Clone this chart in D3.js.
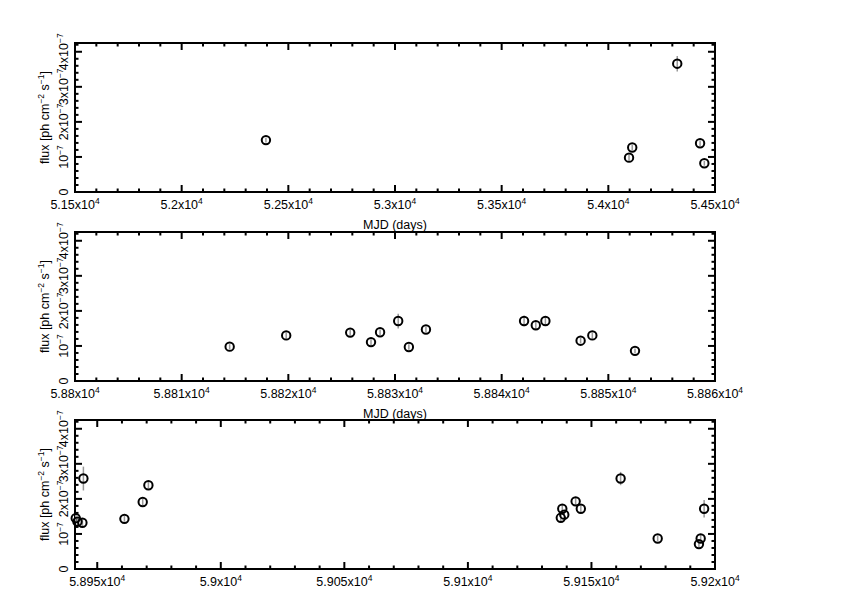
<!DOCTYPE html>
<html><head><meta charset="utf-8">
<script src="https://cdn.jsdelivr.net/npm/d3@7"></script>
<style>body{margin:0;background:#fff}svg{display:block}text{font-family:"Liberation Sans",Arial,sans-serif;fill:#000}</style>
</head><body><svg id="c" width="842" height="595"></svg>
<script>
// Panel 1
const mjd1 = [52395, 54097, 54112, 54323, 54430, 54450];
const flux1 = [1.48, 0.98, 1.27, 3.66, 1.39, 0.82];
const err1 = [0.07, 0.08, 0.08, 0.22, 0.08, 0.07];
// Panel 2
const mjd2 = [58814.5, 58819.8, 58825.8, 58827.75, 58828.6, 58830.3, 58831.3, 58832.9, 58842.1, 58843.2, 58844.1, 58847.4, 58848.5, 58852.5];
const flux2 = [0.98, 1.30, 1.38, 1.11, 1.39, 1.71, 0.97, 1.47, 1.71, 1.59, 1.71, 1.15, 1.30, 0.86];
const err2 = [0.07, 0.08, 0.08, 0.08, 0.08, 0.21, 0.08, 0.08, 0.15, 0.12, 0.14, 0.08, 0.08, 0.07];
// Panel 3
const mjd3 = [58941.3, 58942, 58944, 58944.4, 58961, 58968.4, 58970.7, 59137.6, 59138.2, 59139, 59143.6, 59145.7, 59161.8, 59176.8, 59193.5, 59194.2, 59195.6];
const flux3 = [1.45, 1.35, 1.32, 2.58, 1.43, 1.91, 2.39, 1.46, 1.72, 1.55, 1.93, 1.72, 2.58, 0.87, 0.71, 0.87, 1.72];
const err3 = [0.12, 0.1, 0.1, 0.34, 0.08, 0.09, 0.09, 0.1, 0.12, 0.1, 0.1, 0.1, 0.19, 0.08, 0.08, 0.1, 0.25];
// axis settings (tick labels)
const xDomains = [[51500, 54500], [58800, 58860], [58941, 59200]];
const xMajor = [[51500, 52000, 52500, 53000, 53500, 54000, 54500], [58800, 58810, 58820, 58830, 58840, 58850, 58860], [58950, 59000, 59050, 59100, 59150, 59200]];
const xLabels = [["5.15", "5.2", "5.25", "5.3", "5.35", "5.4", "5.45"], ["5.88", "5.881", "5.882", "5.883", "5.884", "5.885", "5.886"], ["5.895", "5.9", "5.905", "5.91", "5.915", "5.92"]];
const xMinorStep = [100, 2, 10];
const xTitles = ["MJD (days)", "MJD (days)", null];
const yMajor = [0, 1, 2, 3, 4];
const yLabels = ["0", "10", "2x10", "3x10", "4x10"];
const yMax = 4.25;
const yExp = "\u22127";

const svg = d3.select("#c");
const L = 75, R = 715;
const tops = [43, 232, 420], H = 149;
const datasets = [[mjd1, flux1, err1], [mjd2, flux2, err2], [mjd3, flux3, err3]];

function rangeStep(a, b, s) { const out = []; const n = Math.round((b - a) / s); for (let i = 0; i <= n; i++) out.push(a + i * s); return out; }

datasets.forEach((ds, p) => {
  const top = tops[p], bot = top + H;
  const x = d3.scaleLinear().domain(xDomains[p]).range([L, R]);
  const y = d3.scaleLinear().domain([0, yMax]).range([bot, top]);
  const g = svg.append("g");
  const [d0, d1] = xDomains[p];
  const minor = rangeStep(Math.ceil(d0 / xMinorStep[p]) * xMinorStep[p], d1, xMinorStep[p]).filter(v => v >= d0 && v <= d1);
  const majorSet = new Set(xMajor[p].map(v => Math.round(v * 1000)));
  minor.forEach(v => {
    const isMaj = majorSet.has(Math.round(v * 1000));
    const len = isMaj ? 7 : 3.5;
    g.append("line").attr("x1", x(v)).attr("x2", x(v)).attr("y1", bot).attr("y2", bot - len).attr("stroke", "#000").attr("stroke-width", 2);
    g.append("line").attr("x1", x(v)).attr("x2", x(v)).attr("y1", top).attr("y2", top + len).attr("stroke", "#000").attr("stroke-width", 2);
  });
  const yMinor = rangeStep(0, 4.2, 0.2);
  yMinor.forEach(v => {
    const isMaj = Math.abs(v - Math.round(v)) < 1e-6;
    const len = isMaj ? 7 : 3.5;
    g.append("line").attr("x1", L).attr("x2", L + len).attr("y1", y(v)).attr("y2", y(v)).attr("stroke", "#000").attr("stroke-width", 2);
    g.append("line").attr("x1", R).attr("x2", R - len).attr("y1", y(v)).attr("y2", y(v)).attr("stroke", "#000").attr("stroke-width", 2);
  });
  g.append("rect").attr("x", L).attr("y", top).attr("width", R - L).attr("height", H).attr("fill", "none").attr("stroke", "#000").attr("stroke-width", 2);
  xMajor[p].forEach((v, i) => {
    const t = g.append("text").attr("x", x(v)).attr("y", bot + 17).attr("text-anchor", "middle").attr("font-size", 12.5);
    t.append("tspan").text(xLabels[p][i] + "x10");
    t.append("tspan").attr("dy", -5).attr("font-size", 8.5).text("4");
  });
  yMajor.forEach((v, i) => {
    const t = g.append("text").attr("transform", `translate(${L - 7},${y(v)}) rotate(-90)`).attr("text-anchor", "middle").attr("font-size", 12.5);
    t.append("tspan").text(yLabels[i]);
    if (v > 0) t.append("tspan").attr("dy", -5).attr("font-size", 8.5).text(yExp);
  });
  const yt = g.append("text").attr("transform", `translate(${L - 26},${(top + bot) / 2}) rotate(-90)`).attr("text-anchor", "middle").attr("font-size", 12.5);
  yt.append("tspan").text("flux [ph cm");
  yt.append("tspan").attr("dy", -5).attr("font-size", 8.5).text("\u22122");
  yt.append("tspan").attr("dy", 5).text(" s");
  yt.append("tspan").attr("dy", -5).attr("font-size", 8.5).text("\u22121");
  yt.append("tspan").attr("dy", 5).text("]");
  if (xTitles[p]) g.append("text").attr("x", (L + R) / 2).attr("y", bot + 37).attr("text-anchor", "middle").attr("font-size", 12.5).text(xTitles[p]);
  const [xs, ys, es] = ds;
  xs.forEach((v, i) => {
    g.append("line").attr("x1", x(v)).attr("x2", x(v)).attr("y1", y(ys[i] - es[i])).attr("y2", y(ys[i] + es[i])).attr("stroke", "#999").attr("stroke-width", 1.5);
  });
  xs.forEach((v, i) => {
    g.append("circle").attr("cx", x(v)).attr("cy", y(ys[i])).attr("r", 4.2).attr("fill", "none").attr("stroke", "#000").attr("stroke-width", 2);
  });
});
</script></body></html>
